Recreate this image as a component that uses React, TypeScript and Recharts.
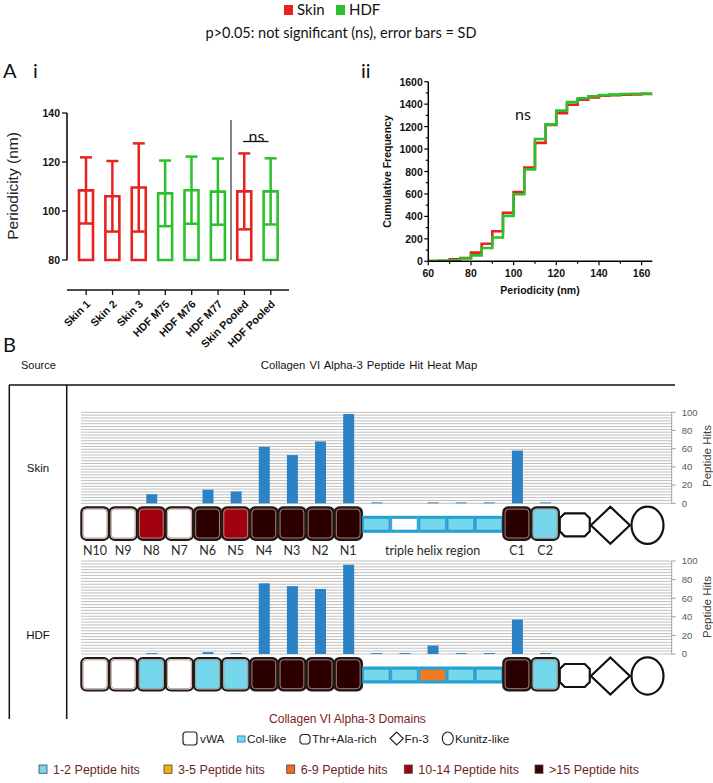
import React from 'react';
import { BarChart, Bar, XAxis, YAxis, ErrorBar, LineChart, Line, CartesianGrid } from 'recharts';

// ---------- Panel A i : periodicity per sample ----------
const periodicityCategories = ['Skin 1', 'Skin 2', 'Skin 3', 'HDF M75', 'HDF M76', 'HDF M77', 'Skin Pooled', 'HDF Pooled'];
const periodicitySource = ['Skin', 'Skin', 'Skin', 'HDF', 'HDF', 'HDF', 'Skin', 'HDF'];
const periodicityMean = [108.4, 106, 109.6, 107.2, 108.5, 107.9, 108, 108];
const periodicitySd = [13.5, 14.4, 18, 13.4, 13.7, 13.5, 15.5, 13.5];
const periodicityTicks = [80, 100, 120, 140];

// ---------- Panel A ii : cumulative frequency ----------
const cumulativeX = [60, 65, 70, 75, 80, 85, 90, 95, 100, 105, 110, 115, 120, 125, 130, 135, 140, 145, 150, 155, 160, 165];
const skinCumulative = [3, 5, 18, 30, 77, 157, 268, 433, 618, 835, 1055, 1215, 1320, 1395, 1440, 1460, 1476, 1480, 1485, 1487, 1490, 1493];
const hdfCumulative = [2, 4, 10, 25, 53, 118, 212, 405, 598, 818, 1090, 1220, 1342, 1418, 1453, 1470, 1480, 1485, 1490, 1492, 1494, 1495];
const cumulativeXTicks = [60, 70, 80, 90, 100, 110, 120, 130, 140, 150, 160];
const cumulativeYTicks = [0, 100, 200, 300, 400, 500, 600, 700, 800, 900, 1000, 1100, 1200, 1300, 1400, 1500, 1600];

// ---------- Panel B : collagen VI alpha-3 peptide hits ----------
const domainIds = ['N10', 'N9', 'N8', 'N7', 'N6', 'N5', 'N4', 'N3', 'N2', 'N1', 'T1', 'T2', 'T3', 'T4', 'T5', 'C1', 'C2', 'THR', 'FN3', 'KUN', 'END'];
const domainLabels = ['N10', 'N9', 'N8', 'N7', 'N6', 'N5', 'N4', 'N3', 'N2', 'N1', '', '', 'triple helix region', '', '', 'C1', 'C2', '', '', '', ''];
const domainKinds = ['vwa', 'vwa', 'vwa', 'vwa', 'vwa', 'vwa', 'vwa', 'vwa', 'vwa', 'vwa', 'col', 'col', 'col', 'col', 'col', 'vwa', 'vwa', 'thr', 'fn3', 'kunitz', 'none'];
const skinHits = [0, 0, 10, 0, 15, 13, 62, 53, 68, 98, 1, 0, 1, 1, 1, 58, 1, 0, 0, 0, 0];
const hdfHits = [0, 0, 1, 0, 2, 1, 76, 73, 70, 96, 1, 1, 9, 1, 1, 37, 1, 0, 0, 0, 0];
const hitsTicks = [0, 20, 40, 60, 80, 100];
const hitsGridValues = [0, 3.125, 6.25, 9.375, 12.5, 15.625, 18.75, 21.875, 25, 28.125, 31.25, 34.375, 37.5, 40.625, 43.75, 46.875, 50, 53.125, 56.25, 59.375, 62.5, 65.625, 68.75, 71.875, 75, 78.125, 81.25, 84.375, 87.5, 90.625, 93.75, 96.875, 100];
const hitLegendLabels = ['1-2 Peptide hits', '3-5 Peptide hits', '6-9 Peptide hits', '10-14 Peptide hits', '>15 Peptide hits'];

const ARIAL = '"Liberation Sans", Arial, sans-serif';
const CAL = 'Lato, "Open Sans", sans-serif';
const RED = '#e8231f';
const GREEN = '#2cc12c';
const HIT_COLORS = ['#ffffff', '#74d7ec', '#efb10a', '#f37a21', '#a1000f', '#2b0000'];
const LEGEND_COLORS = ['#74d7ec', '#efb10a', '#f26a22', '#a1000f', '#3a0000'];

const hitColor = (v: number) => {
  if (v <= 0) return HIT_COLORS[0];
  if (v <= 2) return HIT_COLORS[1];
  if (v <= 5) return HIT_COLORS[2];
  if (v <= 9) return HIT_COLORS[3];
  if (v <= 14) return HIT_COLORS[4];
  return HIT_COLORS[5];
};

const periodicityRows = periodicityCategories.map((name, i) => ({
  name,
  skinMean: periodicitySource[i] === 'Skin' ? periodicityMean[i] : null,
  skinSd: periodicitySource[i] === 'Skin' ? periodicitySd[i] : null,
  hdfMean: periodicitySource[i] === 'HDF' ? periodicityMean[i] : null,
  hdfSd: periodicitySource[i] === 'HDF' ? periodicitySd[i] : null,
}));

const cumulativeRows = cumulativeX.map((x, i) => ({ x, skin: skinCumulative[i], hdf: hdfCumulative[i] }));

const RotTick = (props: any) => {
  const { x, y, payload } = props;
  const ax = x + 2;
  const ay = y + 5;
  return (
    <text x={ax} y={ay} transform={`rotate(-45 ${ax} ${ay})`} textAnchor="end" dominantBaseline="central"
      fontSize={10.8} fontWeight={700} fontFamily={ARIAL} fill="#111">{payload.value}</text>
  );
};

const CumXTick = (props: any) => {
  const { x, y, payload } = props;
  const major = payload.value % 20 === 0;
  return (
    <g>
      <line x1={x} x2={x} y1={y} y2={y + (major ? 4 : 2.5)} stroke="#000" strokeWidth={1.2} />
      {major && (
        <text x={x} y={y + 12} textAnchor="middle" dominantBaseline="central" fontSize={10.5} fontWeight={700} fontFamily={ARIAL} fill="#111">{payload.value}</text>
      )}
    </g>
  );
};

const CumYTick = (props: any) => {
  const { x, y, payload } = props;
  const major = payload.value % 200 === 0;
  return (
    <g>
      <line x1={x} x2={x - (major ? 4 : 2.5)} y1={y} y2={y} stroke="#000" strokeWidth={1.2} />
      {major && (
        <text x={x - 5.5} y={y} textAnchor="end" dominantBaseline="central" fontSize={10.5} fontWeight={700} fontFamily={ARIAL} fill="#111">{payload.value}</text>
      )}
    </g>
  );
};

const BOX_W = 27.4;
const BAND_W = 28.4;

// Domain cell drawn at each category tick (x = category centre from the band scale, y = zero line)
const makeDomainTick = (hits: number[], showLabels: boolean) => (props: any) => {
  const { x, y, payload } = props;
  const index = domainIds.indexOf(payload.value);
  const cx = x;
  const zero = y;
  const kind = domainKinds[index];
  const fill = hitColor(hits[index]);
  const label = showLabels ? domainLabels[index] : '';
  let shape: any = null;
  if (kind === 'vwa') {
    shape = (
      <g>
        <rect x={cx - BOX_W / 2} y={zero + 4} width={BOX_W} height={32.5} rx={5} fill={fill} stroke="#1b1b1b" strokeWidth={2.2} />
        <rect x={cx - BOX_W / 2 + 1.8} y={zero + 5.8} width={BOX_W - 3.6} height={28.9} rx={3.5} fill="none" stroke="#c09080" strokeWidth={0.9} />
      </g>
    );
  } else if (kind === 'col') {
    shape = (
      <g>
        <rect x={cx - BAND_W / 2} y={zero + 12.5} width={BAND_W} height={17} fill="#1fa2d6" />
        <rect x={cx - 12.6} y={zero + 15.3} width={25.2} height={11.4} fill={fill} stroke="#3d9ec8" strokeWidth={0.6} />
      </g>
    );
  } else if (kind === 'thr') {
    const l = cx - 13.5, r = cx + 16.5, t = zero + 10, b = zero + 33, c = 5;
    shape = (
      <polygon points={`${l + c},${t} ${r - c},${t} ${r},${t + c} ${r},${b - c} ${r - c},${b} ${l + c},${b} ${l},${b - c} ${l},${t + c}`}
        fill="#fff" stroke="#111" strokeWidth={2.2} />
    );
  } else if (kind === 'fn3') {
    const dx = cx + 9, my = zero + 22;
    shape = (
      <polygon points={`${dx - 19.5},${my} ${dx},${my - 18.5} ${dx + 19.5},${my} ${dx},${my + 18.5}`}
        fill="#fff" stroke="#111" strokeWidth={2.2} />
    );
  } else if (kind === 'kunitz') {
    shape = <ellipse cx={cx + 18} cy={zero + 22} rx={16} ry={18.6} fill="#fff" stroke="#111" strokeWidth={2.2} />;
  }
  return (
    <g>
      {shape}
      {label ? (
        <text x={cx} y={zero + 47} textAnchor="middle" dominantBaseline="central" fontSize={12.5} fontFamily={CAL} fill="#2a2a2a">{label}</text>
      ) : null}
    </g>
  );
};

const hitsGridGenerator = (props: any) => {
  const { yAxis, offset } = props;
  if (yAxis && typeof yAxis.scale === 'function') {
    return hitsGridValues.map((v) => yAxis.scale(v));
  }
  return hitsGridValues.map((v) => offset.top + offset.height * (1 - v / 100));
};

const HitsRow = ({ hits, showLabels, top, marginTop, plotHeight }: any) => {
  const rows = domainIds.map((id, i) => ({ id, hits: hits[i] }));
  const H = 175;
  const axisH = H - marginTop - plotHeight;
  return (
    <div style={{ position: 'absolute', left: 0, top, width: 713, height: H }}>
      <BarChart width={713} height={H} data={rows} margin={{ top: marginTop, right: 0, left: 81, bottom: 0 }}>
        <CartesianGrid vertical={false} stroke="#b8b8b8" strokeWidth={0.9} horizontalCoordinatesGenerator={hitsGridGenerator} />
        <XAxis dataKey="id" interval={0} height={axisH} axisLine={false} tickLine={false} tickSize={0} tickMargin={0}
          tick={makeDomainTick(hits, showLabels)} />
        <YAxis orientation="right" domain={[0, 100]} ticks={hitsTicks} interval={0} width={41.3} tickSize={4} tickMargin={6}
          axisLine={{ stroke: '#a0a0a0' }} tickLine={{ stroke: '#a0a0a0' }}
          tick={{ fontSize: 9.5, fill: '#595959', fontFamily: ARIAL }} />
        <Bar dataKey="hits" barSize={11} fill="#2b83c6" isAnimationActive={false} />
      </BarChart>
    </div>
  );
};

export default function App() {
  const legendX = [39, 164, 286.7, 404.3, 535];
  return (
    <div style={{ position: 'absolute', left: 0, top: 0, width: 713, height: 783, background: '#fff' }}>
      <svg width={713} height={783} style={{ position: 'absolute', left: 0, top: 0 }}>
        {/* top legend */}
        <rect x={284} y={5} width={9} height={10} fill={RED} />
        <text x={297} y={15} fontSize={15} fontFamily={CAL} fill="#111">Skin</text>
        <rect x={336} y={5} width={9} height={10} fill={GREEN} />
        <text x={349} y={15} fontSize={15} fontFamily={CAL} fill="#111">HDF</text>
        <text x={341} y={38} textAnchor="middle" fontSize={14.5} fontFamily={CAL} fill="#111">p&gt;0.05: not significant (ns), error bars = SD</text>
        {/* panel letters */}
        <text x={3} y={78} fontSize={20} fontFamily={CAL} fill="#111">A</text>
        <text x={33} y={78} fontSize={20} fontFamily={CAL} fill="#111">i</text>
        <text x={361} y={78} fontSize={20} fontFamily={CAL} fill="#111">ii</text>
        <text x={3} y={352} fontSize={20} fontFamily={CAL} fill="#111">B</text>
        {/* A i annotations */}
        <text transform="translate(12 186) rotate(-90)" textAnchor="middle" dominantBaseline="central" fontSize={15.5} fontFamily={ARIAL} fill="#222">Periodicity (nm)</text>
        <line x1={231} x2={231} y1={120} y2={260} stroke="#333" strokeWidth={1.2} />
        <text x={256.5} y={135} textAnchor="middle" dominantBaseline="central" fontSize={16} fontFamily={CAL} fill="#111">ns</text>
        <line x1={243} x2={268.5} y1={141.5} y2={141.5} stroke="#111" strokeWidth={1.3} />
        {/* A ii annotations */}
        <text x={523} y={113} textAnchor="middle" dominantBaseline="central" fontSize={16} fontFamily={CAL} fill="#111">ns</text>
        <text transform="translate(386.7 171.5) rotate(-90)" textAnchor="middle" dominantBaseline="central" fontSize={10.5} fontWeight={700} fontFamily={ARIAL} fill="#111">Cumulative Frequency</text>
        <text x={540} y={290} textAnchor="middle" dominantBaseline="central" fontSize={10.5} fontWeight={700} fontFamily={ARIAL} fill="#111">Periodicity (nm)</text>
        {/* B frame and headers */}
        <text x={21} y={365} dominantBaseline="central" fontSize={11} fontFamily={ARIAL} fill="#111">Source</text>
        <text x={369} y={365} textAnchor="middle" dominantBaseline="central" fontSize={11.3} fontFamily={ARIAL} fill="#111" wordSpacing={1}>Collagen VI Alpha-3 Peptide Hit Heat Map</text>
        <line x1={9} x2={675} y1={385} y2={385} stroke="#111" strokeWidth={1.5} />
        <line x1={9.3} x2={9.3} y1={385} y2={719} stroke="#111" strokeWidth={1.5} />
        <line x1={66.7} x2={66.7} y1={385} y2={719} stroke="#111" strokeWidth={1.5} />
        <text x={38} y={467.7} textAnchor="middle" dominantBaseline="central" fontSize={11.5} fontFamily={ARIAL} fill="#111">Skin</text>
        <text x={38} y={635} textAnchor="middle" dominantBaseline="central" fontSize={11.5} fontFamily={ARIAL} fill="#111">HDF</text>
        <text transform="translate(707 456) rotate(-90)" textAnchor="middle" dominantBaseline="central" fontSize={11.5} fontFamily={ARIAL} fill="#404040">Peptide Hits</text>
        <text transform="translate(707 607) rotate(-90)" textAnchor="middle" dominantBaseline="central" fontSize={11.5} fontFamily={ARIAL} fill="#404040">Peptide Hits</text>
        {/* domain legend */}
        <text x={347.5} y={719} textAnchor="middle" dominantBaseline="central" fontSize={12} fontFamily={ARIAL} fill="#7a2222">Collagen VI Alpha-3 Domains</text>
        <rect x={183} y={732} width={14} height={13} rx={3} fill="#fff" stroke="#222" strokeWidth={1.2} />
        <text x={200} y={739} dominantBaseline="central" fontSize={11.8} fontFamily={ARIAL} fill="#222">vWA</text>
        <rect x={237.5} y={736} width={7.5} height={6} fill="#74d7ec" stroke="#1fa2d6" strokeWidth={1.1} />
        <text x={247} y={739} dominantBaseline="central" fontSize={11.8} fontFamily={ARIAL} fill="#222">Col-like</text>
        <polygon points="302,734.5 308,734.5 310,736.5 310,742 308,744 302,744 300,742 300,736.5" fill="#fff" stroke="#222" strokeWidth={1.1} />
        <text x={312} y={739} dominantBaseline="central" fontSize={11.8} fontFamily={ARIAL} fill="#222">Thr+Ala-rich</text>
        <polygon points="390,738.5 396.7,732 403.3,738.5 396.7,745" fill="#fff" stroke="#222" strokeWidth={1.1} />
        <text x={404.5} y={739} dominantBaseline="central" fontSize={11.8} fontFamily={ARIAL} fill="#222">Fn-3</text>
        <ellipse cx={447.8} cy={738.5} rx={5.5} ry={6.5} fill="#fff" stroke="#222" strokeWidth={1.1} />
        <text x={455} y={739} dominantBaseline="central" fontSize={11.8} fontFamily={ARIAL} fill="#222">Kunitz-like</text>
        {/* hits legend */}
        {hitLegendLabels.map((lab, i) => (
          <g key={lab}>
            <rect x={legendX[i]} y={765} width={8} height={8.3} fill={LEGEND_COLORS[i]} stroke="#444" strokeWidth={0.8} />
            <text x={legendX[i] + 14} y={769.5} dominantBaseline="central" fontSize={12.5} fontFamily={ARIAL} fill="#6e1f1f">{lab}</text>
          </g>
        ))}
      </svg>

      {/* Panel A i */}
      <div style={{ position: 'absolute', left: 0, top: 100, width: 300, height: 260 }}>
        <BarChart width={300} height={260} data={periodicityRows} margin={{ top: 13, right: 11, left: 0, bottom: 0 }}>
          <XAxis xAxisId="skin" dataKey="name" padding={{ left: 6, right: 5 }} interval={0} height={100} tickSize={5}
            axisLine={{ stroke: '#111', strokeWidth: 1.6 }} tickLine={{ stroke: '#111', strokeWidth: 1.3 }} tick={<RotTick />} />
          <XAxis xAxisId="hdf" dataKey="name" padding={{ left: 6, right: 5 }} hide />
          <YAxis domain={[80, 140]} ticks={periodicityTicks} interval={0} width={67} tickSize={5}
            axisLine={{ stroke: '#111', strokeWidth: 1.6 }} tickLine={{ stroke: '#111', strokeWidth: 1.3 }}
            tick={{ fontSize: 10.5, fontWeight: 700, fill: '#111', fontFamily: ARIAL }} />
          <Bar xAxisId="skin" dataKey="skinMean" barSize={14} fill="#fff" stroke={RED} strokeWidth={2.6} isAnimationActive={false}>
            <ErrorBar dataKey="skinSd" width={6} stroke={RED} strokeWidth={2.5} direction="y" />
          </Bar>
          <Bar xAxisId="hdf" dataKey="hdfMean" barSize={14} fill="#fff" stroke={GREEN} strokeWidth={2.6} isAnimationActive={false}>
            <ErrorBar dataKey="hdfSd" width={6} stroke={GREEN} strokeWidth={2.5} direction="y" />
          </Bar>
        </BarChart>
      </div>

      {/* Panel A ii */}
      <div style={{ position: 'absolute', left: 360, top: 70, width: 300, height: 230 }}>
        <LineChart width={300} height={230} data={cumulativeRows} margin={{ top: 11.7, right: 7.7, left: 0, bottom: 0 }}>
          <XAxis dataKey="x" type="number" domain={[60, 165]} allowDataOverflow ticks={cumulativeXTicks} interval={0} height={38.7}
            tickSize={0} tickMargin={0} axisLine={{ stroke: '#000', strokeWidth: 1.5 }} tickLine={false} tick={<CumXTick />} />
          <YAxis type="number" domain={[0, 1600]} allowDataOverflow ticks={cumulativeYTicks} interval={0} width={68.3}
            tickSize={0} tickMargin={0} axisLine={{ stroke: '#000', strokeWidth: 1.5 }} tickLine={false} tick={<CumYTick />} />
          <Line type="stepAfter" dataKey="skin" stroke={RED} strokeWidth={2.6} dot={false} isAnimationActive={false} />
          <Line type="stepAfter" dataKey="hdf" stroke={GREEN} strokeWidth={2.6} dot={false} isAnimationActive={false} />
        </LineChart>
      </div>

      {/* Panel B rows */}
      <HitsRow hits={skinHits} showLabels top={395} marginTop={17.3} plotHeight={91} />
      <HitsRow hits={hdfHits} showLabels={false} top={545} marginTop={16} plotHeight={93} />
    </div>
  );
}
